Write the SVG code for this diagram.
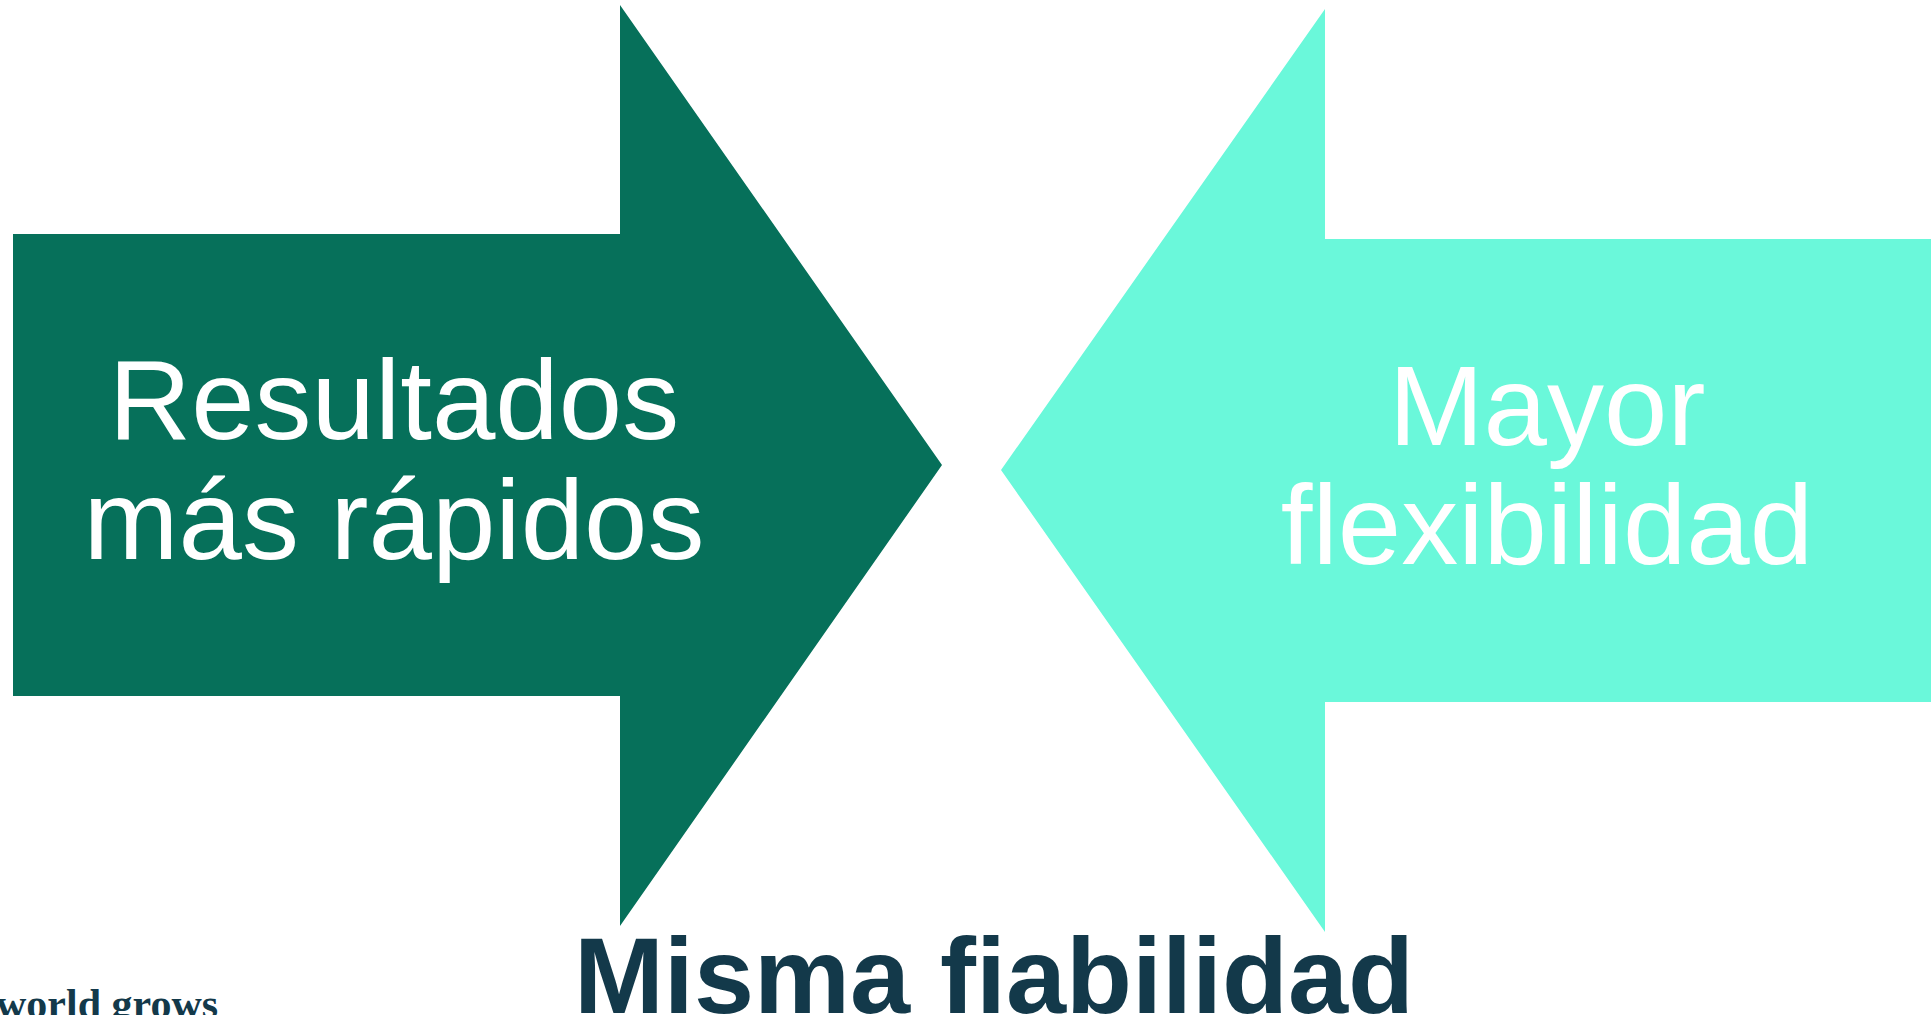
<svg xmlns="http://www.w3.org/2000/svg" width="1931" height="1015" viewBox="0 0 1931 1015">
<style>
.lbl{font-family:"Liberation Sans",Arial,sans-serif;font-size:114px;fill:#FFFFFF;text-anchor:middle}
.title{font-family:"Liberation Sans",Arial,sans-serif;font-size:108px;font-weight:bold;fill:#13394A;text-anchor:middle}
.brand{font-family:"Liberation Serif","Times New Roman",serif;font-size:42px;font-weight:bold;fill:#13394A}
</style>
<rect x="0" y="0" width="1931" height="1015" fill="#FFFFFF"/>
<g id="connectors"></g>
<g id="node-left">
<polygon points="13,234 620,234 620,5 942,465 620,926 620,696 13,696" fill="#06705A"/>
<text class="lbl" x="394" y="439">Resultados</text>
<text class="lbl" x="394" y="559">más rápidos</text>
</g>
<g id="node-right">
<polygon points="1931,239 1325,239 1325,9 1001,470 1325,932 1325,702 1931,702" fill="#6AF8DA"/>
<text class="lbl" x="1547" y="445">Mayor</text>
<text class="lbl" x="1547" y="564">flexibilidad</text>
</g>
<g id="node-title">
<text class="title" x="994" y="1013">Misma fiabilidad</text>
</g>
<g id="brand">
<text class="brand" x="-4" y="1018">world grows</text>
</g>
</svg>
